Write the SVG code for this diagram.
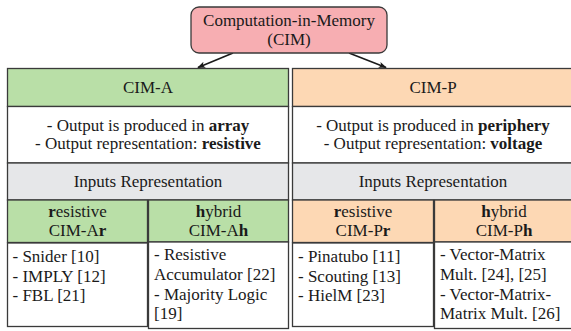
<svg xmlns="http://www.w3.org/2000/svg" width="571" height="331" viewBox="0 0 571 331" font-family="Liberation Serif, Times New Roman, DejaVu Serif, serif">
<style>
text{font-family:"Liberation Serif","Times New Roman","DejaVu Serif",serif;font-size:17px;fill:#1a1a1a}
.c{text-anchor:middle}
.b{font-weight:bold}
.box{stroke:#3a3a3a;stroke-width:1.3}
.pink{fill:#F7AEB2}
.green{fill:#B9DFA7}
.peach{fill:#FDD8B4}
.gray{fill:#E6E7E9}
.white{fill:#FFFFFF}
.conn{stroke:#1a1a1a;stroke-width:1.6;fill:none}
</style>
<defs>
<marker id="arr" viewBox="0 0 10 10" refX="9" refY="5" markerWidth="8" markerHeight="8" orient="auto" markerUnits="userSpaceOnUse">
<path d="M0,1 L10,5 L0,9 L2.5,5 Z" fill="#1a1a1a" stroke="none"/>
</marker>
</defs>
<rect width="571" height="331" fill="#fff"/>

<g id="connectors">
<line class="conn" x1="233" y1="53" x2="198" y2="67.5" marker-end="url(#arr)"/>
<line class="conn" x1="349" y1="53" x2="386" y2="67.5" marker-end="url(#arr)"/>
</g>

<g id="cim">
<rect class="box pink" x="191" y="7" width="196" height="46" rx="8"/>
<text class="c" x="289" y="26">Computation-in-Memory</text>
<text class="c" x="289" y="44.5">(CIM)</text>
</g>

<g id="cim-a">
<rect class="box green" x="7.5" y="68.5" width="281" height="38"/>
<text class="c" x="148" y="93">CIM-A</text>
</g>
<g id="cim-a-desc">
<rect class="box white" x="7.5" y="106.5" width="281" height="56.5"/>
<text class="c" x="148" y="130.5">- Output is produced in <tspan class="b">array</tspan></text>
<text class="c" x="148" y="148.5">- Output representation: <tspan class="b">resistive</tspan></text>
</g>
<g id="cim-a-inputs">
<rect class="box gray" x="7.5" y="163" width="281" height="37"/>
<text class="c" x="148" y="187">Inputs Representation</text>
</g>
<g id="cim-ar">
<rect class="box green" x="7.5" y="200" width="140" height="42.5"/>
<text class="c" x="77.5" y="216.5"><tspan class="b">r</tspan>esistive</text>
<text class="c" x="77.5" y="235.5">CIM-A<tspan class="b">r</tspan></text>
</g>
<g id="cim-ah">
<rect class="box green" x="148.5" y="200" width="140" height="42"/>
<text class="c" x="218.5" y="216.5"><tspan class="b">h</tspan>ybrid</text>
<text class="c" x="218.5" y="235.5">CIM-A<tspan class="b">h</tspan></text>
</g>
<g id="cim-ar-list">
<rect class="box white" x="7.5" y="243" width="140" height="83.5"/>
<text x="12.5" y="262">- Snider [10]</text>
<text x="12.5" y="281.5">- IMPLY [12]</text>
<text x="12.5" y="301">- FBL [21]</text>
</g>
<g id="cim-ah-list">
<rect class="box white" x="148.5" y="242" width="140" height="86.5"/>
<text x="154" y="259.5">- Resistive</text>
<text x="154" y="279.5">Accumulator [22]</text>
<text x="154" y="299.5">- Majority Logic</text>
<text x="154" y="319">[19]</text>
</g>

<g id="cim-p">
<rect class="box peach" x="292.5" y="68.5" width="283" height="38"/>
<text class="c" x="433" y="93">CIM-P</text>
</g>
<g id="cim-p-desc">
<rect class="box white" x="292.5" y="106.5" width="283" height="56.5"/>
<text class="c" x="433" y="130.5">- Output is produced in <tspan class="b">periphery</tspan></text>
<text class="c" x="433" y="148.5">- Output representation: <tspan class="b">voltage</tspan></text>
</g>
<g id="cim-p-inputs">
<rect class="box gray" x="292.5" y="163" width="283" height="37"/>
<text class="c" x="433" y="187">Inputs Representation</text>
</g>
<g id="cim-pr">
<rect class="box peach" x="292.5" y="200" width="141" height="42.5"/>
<text class="c" x="363" y="216.5"><tspan class="b">r</tspan>esistive</text>
<text class="c" x="363" y="235.5">CIM-P<tspan class="b">r</tspan></text>
</g>
<g id="cim-ph">
<rect class="box peach" x="434.5" y="200" width="141" height="42"/>
<text class="c" x="504" y="216.5"><tspan class="b">h</tspan>ybrid</text>
<text class="c" x="504" y="235.5">CIM-P<tspan class="b">h</tspan></text>
</g>
<g id="cim-pr-list">
<rect class="box white" x="292.5" y="243" width="141" height="83.5"/>
<text x="298" y="262">- Pinatubo [11]</text>
<text x="298" y="281.5">- Scouting [13]</text>
<text x="298" y="301">- HielM [23]</text>
</g>
<g id="cim-ph-list">
<rect class="box white" x="434.5" y="242" width="141" height="86.5"/>
<text x="440" y="259.5">- Vector-Matrix</text>
<text x="440" y="279.5">Mult. [24], [25]</text>
<text x="440" y="299.5">- Vector-Matrix-</text>
<text x="440" y="319">Matrix Mult. [26]</text>
</g>
</svg>
